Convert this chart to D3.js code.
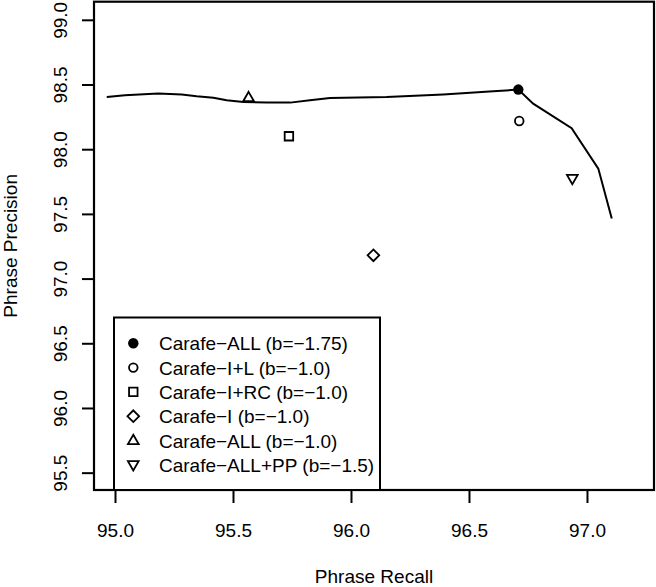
<!DOCTYPE html>
<html>
<head>
<meta charset="utf-8">
<script src="https://cdn.jsdelivr.net/npm/d3@7"></script>
<style>
  body { margin: 0; background: #fff; }
  svg { display: block; font-family: "Liberation Sans", Arial, sans-serif; }
</style>
</head>
<body>
<svg width="656" height="587"></svg>
<script>
// frontier curve (recall, precision)
const curveRecall = [94.965, 95.042, 95.183, 95.283, 95.346, 95.417, 95.473, 95.544, 95.643, 95.742,
  95.826, 95.911, 96.151, 96.391, 96.603, 96.709, 96.772, 96.935, 97.048, 97.105];
const curvePrecision = [98.403, 98.417, 98.430, 98.422, 98.409, 98.398, 98.378, 98.365, 98.360, 98.360,
  98.378, 98.396, 98.403, 98.422, 98.447, 98.461, 98.352, 98.162, 97.850, 97.464];

// single systems
const systemNames = ["Carafe\u2212ALL (b=\u22121.75)", "Carafe\u2212I+L (b=\u22121.0)", "Carafe\u2212I+RC (b=\u22121.0)",
  "Carafe\u2212I (b=\u22121.0)", "Carafe\u2212ALL (b=\u22121.0)", "Carafe\u2212ALL+PP (b=\u22121.5)"];
const systemRecall = [96.709, 96.713, 95.737, 96.095, 95.566, 96.938];
const systemPrecision = [98.461, 98.218, 98.100, 97.180, 98.399, 97.773];
const systemShapes = ["dot", "circle", "square", "diamond", "triangle", "triangleDown"];

const xTicks = [95.0, 95.5, 96.0, 96.5, 97.0];
const yTicks = [95.5, 96.0, 96.5, 97.0, 97.5, 98.0, 98.5, 99.0];

const svg = d3.select("svg");
const plotL = 94, plotR = 654, plotT = 1.7, plotB = 490;

const x = d3.scaleLinear().domain([94.911, 97.284]).range([plotL, plotR]);
const y = d3.scaleLinear().domain([95.366, 99.14]).range([plotB, plotT]);

// curve
const pts = curveRecall.map((r, i) => [r, curvePrecision[i]]);
svg.append("path")
  .datum(pts)
  .attr("fill", "none")
  .attr("stroke", "#000")
  .attr("stroke-width", 2)
  .attr("d", d3.line().x(d => x(d[0])).y(d => y(d[1])));

function drawShape(g, shape) {
  if (shape === "dot") {
    g.append("circle").attr("r", 5.2).attr("fill", "#000");
  } else if (shape === "circle") {
    g.append("circle").attr("r", 4.3).attr("fill", "none").attr("stroke", "#000").attr("stroke-width", 1.8);
  } else if (shape === "square") {
    g.append("path").attr("d", d3.symbol(d3.symbolSquare, 72)())
      .attr("fill", "none").attr("stroke", "#000").attr("stroke-width", 1.8);
  } else if (shape === "diamond") {
    g.append("path").attr("d", d3.symbol(d3.symbolSquare, 68)()).attr("transform", "rotate(45)")
      .attr("fill", "none").attr("stroke", "#000").attr("stroke-width", 1.8);
  } else if (shape === "triangle") {
    g.append("path").attr("d", d3.symbol(d3.symbolTriangle, 50)()).attr("transform", "translate(0,0.5)")
      .attr("fill", "none").attr("stroke", "#000").attr("stroke-width", 1.8);
  } else {
    g.append("path").attr("d", d3.symbol(d3.symbolTriangle, 50)()).attr("transform", "translate(0,-0.5) rotate(180)")
      .attr("fill", "none").attr("stroke", "#000").attr("stroke-width", 1.8);
  }
}

systemRecall.forEach((r, i) => {
  const g = svg.append("g").attr("transform", `translate(${x(r)},${y(systemPrecision[i])})`);
  drawShape(g, systemShapes[i]);
});

// axes
const xAxis = svg.append("g")
  .attr("transform", `translate(0,${plotB})`)
  .call(d3.axisBottom(x).tickValues(xTicks).tickSize(13).tickFormat(d3.format(".1f")));
xAxis.select(".domain").remove();
xAxis.selectAll(".tick line").attr("stroke-width", 2);
xAxis.selectAll(".tick text")
  .attr("y", 47).attr("dy", null)
  .attr("font-size", 19).attr("fill", "#000")
  .attr("font-family", "Liberation Sans, Arial, sans-serif");

const yAxis = svg.append("g")
  .attr("transform", `translate(${plotL},0)`)
  .call(d3.axisLeft(y).tickValues(yTicks).tickSize(12).tickFormat(d3.format(".1f")));
yAxis.select(".domain").remove();
yAxis.selectAll(".tick line").attr("stroke-width", 2);
yAxis.selectAll(".tick text")
  .attr("x", 0).attr("y", -27).attr("dy", null)
  .attr("transform", "rotate(-90)")
  .attr("text-anchor", "middle")
  .attr("font-size", 19).attr("fill", "#000")
  .attr("font-family", "Liberation Sans, Arial, sans-serif");

// box
svg.append("rect")
  .attr("x", plotL).attr("y", plotT)
  .attr("width", plotR - plotL).attr("height", plotB - plotT)
  .attr("fill", "none").attr("stroke", "#000").attr("stroke-width", 2.2);

// axis titles
svg.append("text")
  .attr("x", (plotL + plotR) / 2).attr("y", 583)
  .attr("text-anchor", "middle").attr("font-size", 19)
  .text("Phrase Recall");
svg.append("text")
  .attr("transform", `translate(17,${(plotT + plotB) / 2}) rotate(-90)`)
  .attr("text-anchor", "middle").attr("font-size", 19)
  .text("Phrase Precision");

// legend
const legend = svg.append("g");
legend.append("rect")
  .attr("x", 114).attr("y", 317.5)
  .attr("width", 266).attr("height", plotB - 317.5)
  .attr("fill", "#fff").attr("stroke", "#000").attr("stroke-width", 2);

systemNames.forEach((name, i) => {
  const cy = 343.3 + i * 24.3;
  const g = legend.append("g").attr("transform", `translate(133.3,${cy})`);
  drawShape(g, systemShapes[i]);
  legend.append("text")
    .attr("x", 159).attr("y", cy + 7)
    .attr("font-size", 19)
    .text(name);
});
</script>
</body>
</html>
